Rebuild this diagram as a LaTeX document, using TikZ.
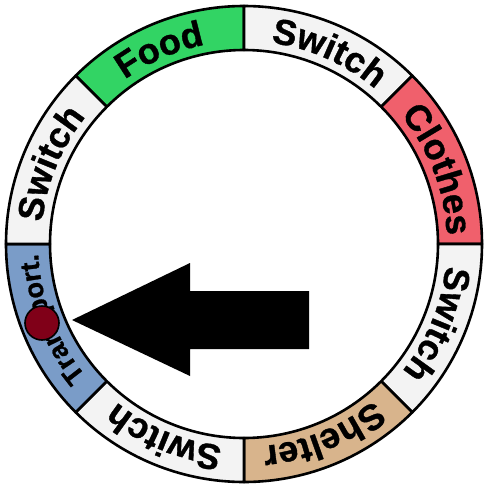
\documentclass[tikz,border=0pt]{standalone}
\usepackage{fontspec}
\setmainfont{Liberation Sans}[BoldFeatures={FakeBold=1}]
\definecolor{foodgreen}{RGB}{50,212,100}
\definecolor{switchgray}{RGB}{243,243,243}
\definecolor{clothesred}{RGB}{240,96,108}
\definecolor{sheltertan}{RGB}{216,180,140}
\definecolor{transblue}{RGB}{122,156,200}
\definecolor{dotred}{RGB}{128,0,24}
\newcommand\ringsector[3]{%
  \filldraw[seg, fill=#1] (#2:238pt) arc[start angle=#2, end angle=#3, radius=238pt]
    -- (#3:194pt) arc[start angle=#3, end angle=#2, radius=194pt] -- cycle;}
\newcommand\bigfont{\bfseries\fontsize{36pt}{40pt}\selectfont}
\newcommand\smallfont{\bfseries\fontsize{27pt}{30pt}\selectfont}
\newdimen\rtw
\newcounter{rtc}
\makeatletter
\newcommand\rt@measure[1]{%
  \pgfinterruptpicture\setbox0=\hbox{\normalfont#1}\global\rtw=\wd0\relax\endpgfinterruptpicture}
% #1 font, #2 word, #3 centre angle, #4 baseline radius (pt)
\newcommand\ringtext[4]{%
  \rt@measure{#1#2}%
  \pgfmathsetmacro\rt@cur{#3 + \the\rtw/#4*57.29578/2}%
  \def\rt@font{#1}\def\rt@r{#4}%
  \rt@loop#2\relax}
\def\rt@loop#1{\ifx#1\relax\else\rt@char{#1}\expandafter\rt@loop\fi}
\def\rt@char#1{%
  \rt@measure{\rt@font #1}%
  \pgfmathsetmacro\rt@a{\rt@cur - \the\rtw/\rt@r*57.29578/2}%
  \stepcounter{rtc}%
  \node[letter, rotate=\rt@a-90, font=\rt@font] (ch\arabic{rtc}) at (\rt@a:\rt@r pt) {#1};%
  \pgfmathsetmacro\rt@cur{\rt@cur - \the\rtw/\rt@r*57.29578}}
\makeatother
\begin{document}
\begin{tikzpicture}[x=1pt,y=1pt,
  seg/.style={draw=black, line width=2.6pt, line join=round},
  letter/.style={anchor=base, inner sep=0pt, text=black}]
\useasboundingbox (-244,-241) rectangle (242,244);
% ring sectors
\ringsector{foodgreen}{90}{135}
\ringsector{switchgray}{45}{90}
\ringsector{clothesred}{0}{45}
\ringsector{switchgray}{-45}{0}
\ringsector{sheltertan}{-90}{-45}
\ringsector{switchgray}{-135}{-90}
\ringsector{transblue}{180}{225}
\ringsector{switchgray}{135}{180}
% labels
\ringtext{\bigfont}{Food}{113.5}{203}
\ringtext{\bigfont}{Switch}{66}{203}
\ringtext{\bigfont}{Clothes}{21}{203}
\ringtext{\bigfont}{Switch}{-22.5}{203}
\ringtext{\bigfont}{Shelter}{-67.5}{203}
\ringtext{\bigfont}{Switch}{-112.5}{203}
\ringtext{\smallfont}{Transport.}{201.5}{206}
\ringtext{\bigfont}{Switch}{157.5}{203}
% arrow
\fill[black] (-172,-76) -- (-54,-19) -- (-54,-47) -- (65,-47) -- (65,-105) -- (-54,-105) -- (-54,-132) -- cycle;
% dot
\filldraw[fill=dotred, draw=black, line width=1.6pt] (-202,-79) circle[radius=17pt];
\end{tikzpicture}
\end{document}
